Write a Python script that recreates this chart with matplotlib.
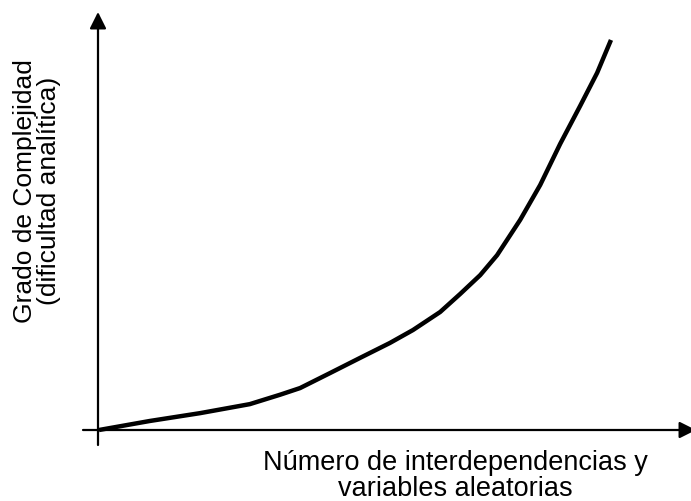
import matplotlib
matplotlib.use('Agg')
import matplotlib.pyplot as plt

plt.rcParams['font.family'] = ['Liberation Sans', 'DejaVu Sans']

# curve (arbitrary units, 0..10 on both axes)
x_vals = [0.0, 0.99, 1.97, 2.94, 3.53, 3.92, 4.50, 5.09, 5.67, 6.12, 6.65,
          7.04, 7.43, 7.76, 8.21, 8.60, 8.99, 9.38, 9.71, 9.98]
y_vals = [0.0, 0.23, 0.43, 0.66, 0.90, 1.07, 1.45, 1.84, 2.22, 2.55, 3.01,
          3.47, 3.95, 4.46, 5.36, 6.25, 7.30, 8.27, 9.11, 9.95]

x_label = 'Número de interdependencias y\nvariables aleatorias'
y_label = 'Grado de Complejidad\n(dificultad analítica)'

W, H = 691, 501
fig = plt.figure(figsize=(W / 100, H / 100), dpi=100)
fig.patch.set_facecolor('white')

# axes box: x 0..10 -> px 99..612, y 0..10 -> px 430..38
ax = fig.add_axes([99 / W, (H - 430) / H, 513 / W, 392 / H])
ax.set_xlim(0, 10)
ax.set_ylim(0, 10)
ax.axis('off')

px_x = 51.3   # pixels per x unit
px_y = 39.2   # pixels per y unit

arrow_kw = dict(arrowstyle='-|>,head_length=0.5,head_width=0.25',
                color='black', lw=1.6, mutation_scale=20,
                shrinkA=0, shrinkB=0)

# y axis
ax.annotate('', xy=(-1 / px_x, (430 - 12) / px_y),
            xytext=(-1 / px_x, -15 / px_y),
            arrowprops=arrow_kw, annotation_clip=False)
# x axis
ax.annotate('', xy=((696 - 99) / px_x, 0),
            xytext=((83 - 99) / px_x, 0),
            arrowprops=arrow_kw, annotation_clip=False)

ax.plot(x_vals, y_vals, color='black', lw=3.2, solid_capstyle='butt',
        solid_joinstyle='round', clip_on=False, zorder=3)

fig.text(455 / W, 1 - 476 / H, x_label, ha='center', va='center',
         fontsize=19.5, linespacing=0.95)
fig.text(37 / W, 1 - 191 / H, y_label, ha='center', va='center',
         fontsize=19, linespacing=0.95, rotation=90)

fig.savefig('out.png', dpi=100, facecolor='white')
